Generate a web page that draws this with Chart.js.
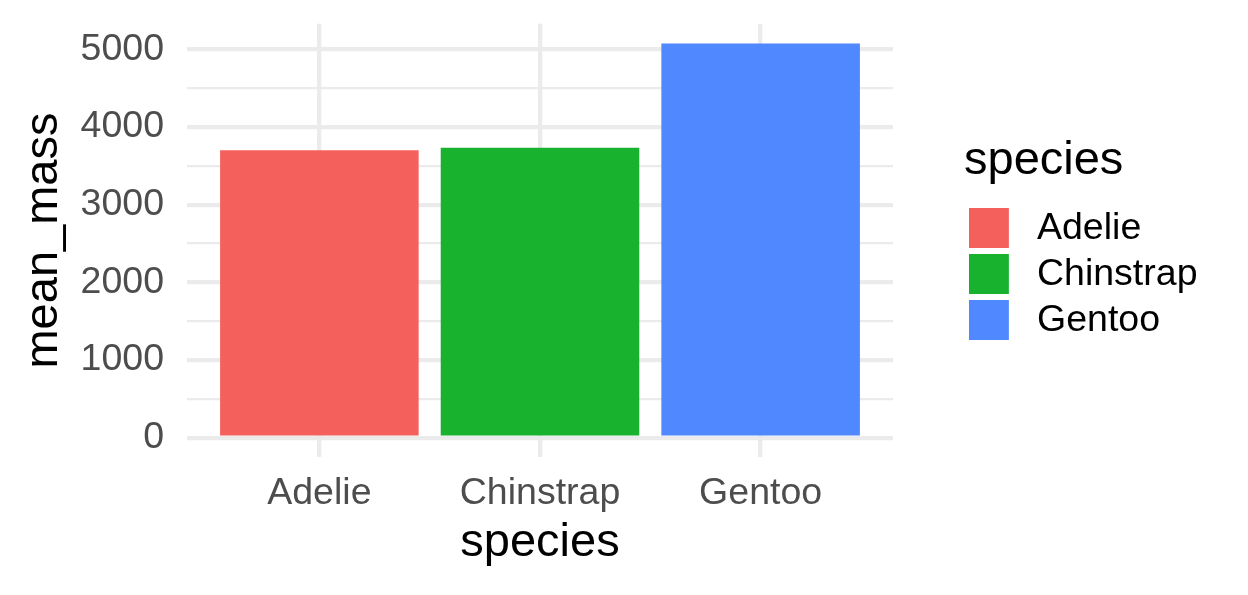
<!DOCTYPE html>
<html lang="en">

<head>
    <meta charset="UTF-8">
    <title>mean_mass by species</title>
    <script src="https://cdn.jsdelivr.net/npm/chart.js"></script>
    <style>
        body { margin: 0; background: #fff; }
        #wrap { width: 1248px; height: 595px; }
    </style>
</head>

<body>
    <div id="wrap"><canvas id="massChart"></canvas></div>

    <script>
        // data
        const species = ['Adelie', 'Chinstrap', 'Gentoo'];
        const meanMass = [3700.66, 3733.09, 5076.02];
        const barColors = ['#F4605B', '#19B22F', '#4F88FF'];
        const yMajorTicks = [0, 1000, 2000, 3000, 4000, 5000];
        const yMinorTicks = [500, 1500, 2500, 3500, 4500];

        const FONT = "'Liberation Sans', Arial, Helvetica, sans-serif";
        const GRID = '#EBEBEB';
        const TICK_SIZE = 37.5;
        const TITLE_SIZE = 47;
        const KEY_W = 45.75;      // legend slot before the label text
        const KEY_PAD = 8.5;
        const LEGEND_GAP = 71;

        // ggplot style 5% expansion on the value axis
        const yTop = Math.max(...meanMass) * 1.05;
        const yBottom = -Math.max(...meanMass) * 0.05;

        // legend width is known up front so the panel lands where ggplot put it
        const mctx = document.createElement('canvas').getContext('2d');
        mctx.font = TICK_SIZE + 'px ' + FONT;
        const widest = Math.max(...species.map(s => mctx.measureText(s).width));
        const legendWidth = KEY_PAD + KEY_W + TICK_SIZE / 2 + widest + 10;
        const padRight = 1248 - 893 - LEGEND_GAP - legendWidth;

        // legend keys: 40px squares, drawn left of the slot centre
        const keyImages = barColors.map(c => {
            const k = document.createElement('canvas');
            k.width = 53;
            k.height = 40;
            const g = k.getContext('2d');
            g.fillStyle = c;
            g.fillRect(0, 0, 40, 40);
            return k;
        });

        // empty box between the panel and the legend
        const legendGap = {
            id: 'legendGap',
            beforeInit(chart) {
                Chart.layouts.addBox(chart, {
                    position: 'right',
                    weight: 500,
                    fullSize: false,
                    options: {},
                    width: 0,
                    height: 0,
                    isHorizontal() { return false; },
                    update(w, h) { this.width = LEGEND_GAP; this.height = h; },
                    draw() {}
                });
            }
        };

        // no extra room for half tick labels at the ends
        const noEdgePadding = (scale) => {
            scale.paddingTop = 0;
            scale.paddingBottom = 0;
            scale.paddingLeft = 0;
            scale.paddingRight = 0;
        };

        const ctx = document.getElementById('massChart').getContext('2d');
        new Chart(ctx, {
            type: 'bar',
            data: {
                datasets: [{
                    data: species.map((s, i) => ({ x: i + 1, y: meanMass[i] })),
                    backgroundColor: barColors,
                    borderWidth: 0,
                    barPercentage: 0.9,
                    categoryPercentage: 1
                }]
            },
            plugins: [legendGap],
            options: {
                responsive: true,
                maintainAspectRatio: false,
                animation: false,
                layout: { padding: { top: 23.7, right: padRight, bottom: 0, left: 0 } },
                plugins: {
                    tooltip: { enabled: false },
                    legend: {
                        position: 'right',
                        align: 'center',
                        fullSize: false,
                        maxWidth: 400,
                        title: {
                            display: true,
                            text: 'species',
                            position: 'start',
                            color: '#000',
                            font: { family: FONT, size: TITLE_SIZE },
                            padding: { top: 3.6, bottom: 7.4 }
                        },
                        labels: {
                            usePointStyle: true,
                            pointStyleWidth: KEY_W,
                            padding: KEY_PAD,
                            color: '#000',
                            font: { family: FONT, size: TICK_SIZE },
                            generateLabels: () => species.map((s, i) => ({
                                text: s,
                                fillStyle: barColors[i],
                                strokeStyle: barColors[i],
                                pointStyle: keyImages[i],
                                lineWidth: 0,
                                hidden: false,
                                index: i
                            }))
                        }
                    }
                },
                scales: {
                    x: {
                        type: 'linear',
                        min: 0.4,
                        max: 3.6,
                        offset: false,
                        afterBuildTicks: (scale) => {
                            scale.ticks = species.map((s, i) => ({ value: i + 1 }));
                        },
                        afterFit: (scale) => {
                            scale.height = 595 - 457.4;
                            noEdgePadding(scale);
                        },
                        border: { display: false },
                        grid: { color: GRID, lineWidth: 4.3, drawTicks: false, offset: false },
                        ticks: {
                            autoSkip: false,
                            maxRotation: 0,
                            padding: 13.5,
                            color: '#4D4D4D',
                            font: { family: FONT, size: TICK_SIZE },
                            callback: (v) => species[v - 1]
                        },
                        title: {
                            display: true,
                            text: 'species',
                            color: '#000',
                            font: { family: FONT, size: TITLE_SIZE },
                            padding: { top: 0, bottom: 24.1 }
                        }
                    },
                    y: {
                        min: yBottom,
                        max: yTop,
                        afterBuildTicks: (scale) => {
                            scale.ticks = yMajorTicks.concat(yMinorTicks)
                                .sort((a, b) => a - b)
                                .map(v => ({ value: v }));
                        },
                        afterFit: (scale) => {
                            scale.width = 187;
                            noEdgePadding(scale);
                        },
                        border: { display: false },
                        grid: {
                            color: GRID,
                            drawTicks: false,
                            lineWidth: (c) => (c.tick && yMajorTicks.includes(c.tick.value)) ? 4.3 : 2.2
                        },
                        ticks: {
                            autoSkip: false,
                            padding: 23,
                            color: '#4D4D4D',
                            font: { family: FONT, size: TICK_SIZE },
                            callback: (v) => yMajorTicks.includes(v) ? String(v) : ''
                        },
                        title: {
                            display: true,
                            text: 'mean_mass',
                            color: '#000',
                            font: { family: FONT, size: TITLE_SIZE },
                            padding: { top: 15.5, bottom: 0 }
                        }
                    }
                }
            }
        });
    </script>

</body>

</html>
